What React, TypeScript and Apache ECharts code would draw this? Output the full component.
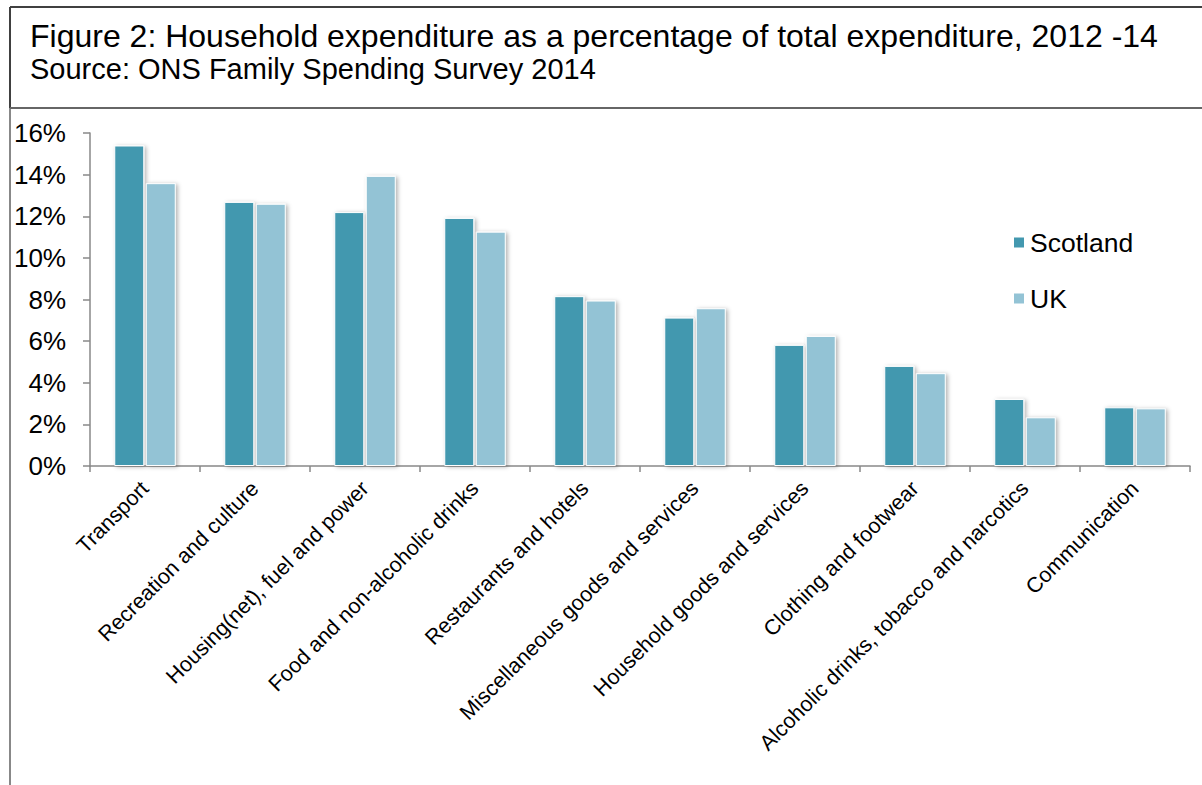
import React, { useEffect, useRef } from "react";
import * as echarts from "echarts";

const categories = [
  "Transport",
  "Recreation and culture",
  "Housing(net), fuel and power",
  "Food and non-alcoholic drinks",
  "Restaurants and hotels",
  "Miscellaneous goods and services",
  "Household goods and services",
  "Clothing and footwear",
  "Alcoholic drinks, tobacco and narcotics",
  "Communication",
];
const scotland = [15.4, 12.69, 12.2, 11.92, 8.16, 7.13, 5.82, 4.81, 3.22, 2.82];
const uk = [13.59, 12.6, 13.94, 11.26, 7.95, 7.58, 6.25, 4.46, 2.34, 2.77];
const titleText = "Figure 2: Household expenditure as a percentage of total expenditure, 2012 -14";
const sourceText = "Source: ONS Family Spending Survey 2014";

const FONT = "'Liberation Sans', Arial, sans-serif";
const SCOT_COLOR = "#4398af";
const UK_COLOR = "#93c3d5";

export default function App() {
  const ref = useRef<HTMLDivElement>(null);
  useEffect(() => {
    if (!ref.current) return;
    const chart = echarts.init(ref.current, null, { renderer: "svg" });
    const barStyle = (color: string) => ({
      color,
      borderColor: "#ffffff",
      borderWidth: 1,
      shadowBlur: 4,
      shadowOffsetX: 2,
      shadowOffsetY: 1,
      shadowColor: "rgba(0,0,0,0.3)",
    });
    chart.setOption({
      animation: false,
      backgroundColor: "#ffffff",
      textStyle: { fontFamily: FONT },
      title: [
        {
          text: titleText,
          left: 30,
          top: 22,
          padding: 0,
          textStyle: { fontFamily: FONT, fontSize: 32, fontWeight: "normal", color: "#000", lineHeight: 28 },
        },
        {
          text: sourceText,
          left: 30,
          top: 56,
          padding: 0,
          textStyle: { fontFamily: FONT, fontSize: 29, fontWeight: "normal", color: "#000", lineHeight: 25 },
        },
      ],
      legend: {
        orient: "vertical",
        left: 1007,
        top: 224,
        itemWidth: 12,
        itemHeight: 12,
        itemGap: 29,
        icon: "rect",
        textStyle: { fontFamily: FONT, fontSize: 26.5, color: "#000" },
        data: ["Scotland", "UK"],
      },
      grid: { left: 90, right: 12, top: 133, bottom: 319, containLabel: false },
      xAxis: {
        type: "category",
        data: categories,
        axisLine: { lineStyle: { color: "#888", width: 1.5 } },
        axisTick: { show: true, length: 6, lineStyle: { color: "#888", width: 1.5 } },
        axisLabel: {
          rotate: 45,
          interval: 0,
          margin: 19,
          fontSize: 21.5,
          color: "#000",
          fontFamily: FONT,
        },
      },
      yAxis: {
        type: "value",
        min: 0,
        max: 16,
        interval: 2,
        splitLine: { show: false },
        axisLine: { show: true, lineStyle: { color: "#888", width: 1.5 } },
        axisTick: { show: true, length: 7, lineStyle: { color: "#888", width: 1.5 } },
        axisLabel: { formatter: "{value}%", fontSize: 26, color: "#000", margin: 24, fontFamily: FONT },
      },
      series: [
        { name: "Scotland", type: "bar", data: scotland, barWidth: 30, barGap: "5%", itemStyle: barStyle(SCOT_COLOR) },
        { name: "UK", type: "bar", data: uk, barWidth: 30, barGap: "5%", itemStyle: barStyle(UK_COLOR) },
      ],
      graphic: [
        { type: "line", shape: { x1: 10, y1: 7, x2: 1202, y2: 7 }, style: { stroke: "#404040", lineWidth: 2 }, z: 100 },
        { type: "line", shape: { x1: 10, y1: 7, x2: 10, y2: 108 }, style: { stroke: "#404040", lineWidth: 2 }, z: 100 },
        { type: "line", shape: { x1: 10, y1: 108, x2: 10, y2: 785 }, style: { stroke: "#888888", lineWidth: 2 }, z: 100 },
        { type: "line", shape: { x1: 10, y1: 108, x2: 1202, y2: 108 }, style: { stroke: "#666666", lineWidth: 2 }, z: 100 },
      ],
    });
    return () => chart.dispose();
  }, []);
  return (
    <div
      ref={ref}
      style={{ position: "fixed", left: 0, top: 0, width: 1202, height: 785 }}
    />
  );
}
